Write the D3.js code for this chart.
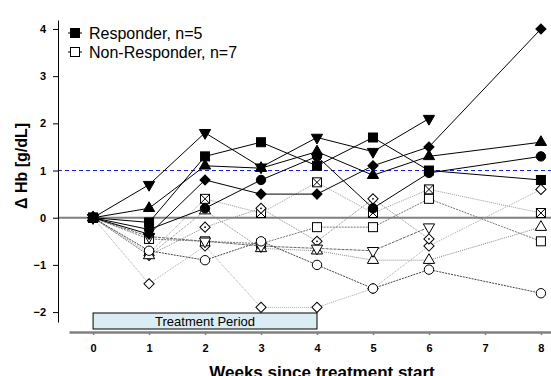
<!DOCTYPE html>
<html>
<head>
<meta charset="utf-8">
<script src="https://cdn.jsdelivr.net/npm/d3@7"></script>
<style>
  body { margin: 0; background: #fff; }
  svg { display: block; font-family: Arial, "Liberation Sans", sans-serif; }
</style>
</head>
<body>
<svg id="chart" width="551" height="376"></svg>
<script>
// weeks since treatment start
var weeks = [0, 1, 2, 3, 4, 5, 6, 8];
var xTicks = [0, 1, 2, 3, 4, 5, 6, 7, 8];
var yTicks = [-2, -1, 0, 1, 2, 3, 4];

// responders (filled markers, solid lines)
var respSquare   = [0, -0.1, 1.3, 1.6, 1.1, 1.7, 1.0, 0.8];
var respCircle   = [0, -0.25, 0.2, 0.8, 1.3, 0.2, 0.95, 1.3];
var respTriUp    = [0, 0.2, 1.1, 1.05, 1.4, 0.9, 1.3, 1.6];
var respTriDown  = [0, 0.7, 1.8, 1.07, 1.7, 1.4, 2.1, null];
var respDiamond  = [0, -0.35, 0.8, 0.5, 0.5, 1.1, 1.5, 4.0];

// non-responders (open markers, dotted lines)
var nonSquare      = [0, -0.45, -0.5, -0.55, -0.2, -0.2, 0.4, -0.5];
var nonCircle      = [0, -0.7, -0.9, -0.5, -1.0, -1.5, -1.1, -1.6];
var nonTriUp       = [0, -0.8, 0.15, -0.65, -0.7, -0.9, -0.9, -0.2];
var nonTriDown     = [0, -0.4, -0.5, -0.6, -0.65, -0.7, -0.2, null];
var nonDiamond     = [0, -1.4, -0.6, -1.9, -1.9, -1.5, -0.6, 0.6];
var nonCrossSquare = [0, -0.75, 0.4, 0.1, 0.75, 0.1, 0.6, 0.1];
var nonDotDiamond  = [0, -0.8, -0.2, 0.2, -0.5, 0.4, -0.45, null];

var treatmentWeeks = [0, 4];
var refLine = 1;

var nonResponders = [
  { values: nonDiamond,     shape: "diamond",  color: "#a8a8a8", dash: "1,1" },
  { values: nonCrossSquare, shape: "xsquare",  color: "#9a9a9a", dash: "1,1" },
  { values: nonDotDiamond,  shape: "ddiamond", color: "#8a8a8a", dash: "1,1" },
  { values: nonSquare,      shape: "square",   color: "#777",    dash: "2,1" },
  { values: nonTriUp,       shape: "triup",    color: "#888",    dash: "1,1" },
  { values: nonTriDown,     shape: "tridown",  color: "#666",    dash: "3,1" },
  { values: nonCircle,      shape: "circle",   color: "#444",    dash: "2,1" }
];
var responders = [
  { values: respDiamond, shape: "diamond" },
  { values: respCircle,  shape: "circle" },
  { values: respTriUp,   shape: "triup" },
  { values: respTriDown, shape: "tridown" },
  { values: respSquare,  shape: "square" }
];

var svg = d3.select("#chart");
svg.append("rect").attr("width", 551).attr("height", 376).attr("fill", "#fff");

var x = d3.scaleLinear().domain([-0.43, 8.18]).range([69, 551]);
var y = d3.scaleLinear().domain([-2.21, 4.19]).range([322, 20]);

// treatment period box
svg.append("rect")
  .attr("x", x(treatmentWeeks[0])).attr("y", 313)
  .attr("width", x(treatmentWeeks[1]) - x(treatmentWeeks[0])).attr("height", 16)
  .attr("fill", "#daedf2").attr("stroke", "#000").attr("stroke-width", 1);
svg.append("text")
  .attr("x", x((treatmentWeeks[0] + treatmentWeeks[1]) / 2)).attr("y", 326)
  .attr("text-anchor", "middle").style("font-size", "13px")
  .text("Treatment Period");

// reference lines
svg.append("line")
  .attr("x1", 58).attr("x2", 551).attr("y1", y(0)).attr("y2", y(0))
  .attr("stroke", "#808080").attr("stroke-width", 2);
svg.append("line")
  .attr("x1", 58).attr("x2", 551).attr("y1", y(refLine)).attr("y2", y(refLine))
  .attr("stroke", "#1a1aee").attr("stroke-width", 1).attr("stroke-dasharray", "4,3");

// y axis
var yAxis = svg.append("g")
  .attr("transform", "translate(58,0)")
  .call(d3.axisLeft(y).tickValues(yTicks).tickFormat(d3.format("d"))
    .tickSize(5).tickSizeOuter(0).tickPadding(7));
yAxis.attr("font-family", null);
yAxis.selectAll("text").style("font-size", "11px").style("font-weight", "bold");

// x axis
var xAxis = svg.append("g")
  .attr("transform", "translate(0,332)")
  .call(d3.axisBottom(x).tickValues(xTicks).tickFormat(d3.format("d"))
    .tickSize(3).tickSizeOuter(0).tickPadding(9));
xAxis.attr("font-family", null);
xAxis.select(".domain").attr("stroke", "#808080").attr("stroke-width", 2.5);
xAxis.selectAll(".tick line").attr("stroke", "#808080").attr("stroke-width", 1.5);
xAxis.selectAll("text").style("font-size", "11px").style("font-weight", "bold");

svg.append("text")
  .attr("x", 322).attr("y", 378)
  .attr("text-anchor", "middle").style("font-size", "17px").style("font-weight", "bold")
  .text("Weeks since treatment start");
svg.append("text")
  .attr("transform", "translate(27,166) rotate(-90)")
  .attr("text-anchor", "middle").style("font-size", "16px").style("font-weight", "bold")
  .text("\u0394 Hb [g/dL]");

function points(vals) {
  return weeks.map(function (w, i) { return { w: w, v: vals[i] }; })
    .filter(function (d) { return d.v !== null; });
}

var line = d3.line()
  .x(function (d) { return x(d.w); })
  .y(function (d) { return y(d.v); });

function drawMarker(g, shape, filled) {
  var fill = filled ? "#000" : "#fff";
  if (shape === "square" || shape === "xsquare") {
    g.append("rect").attr("x", -4.5).attr("y", -4.5).attr("width", 9).attr("height", 9)
      .attr("fill", fill).attr("stroke", "#000");
    if (shape === "xsquare") {
      g.append("path").attr("d", "M-4.5,-4.5L4.5,4.5M4.5,-4.5L-4.5,4.5").attr("stroke", "#000");
    }
  } else if (shape === "circle") {
    g.append("circle").attr("r", 4.7).attr("fill", fill).attr("stroke", "#000");
  } else if (shape === "triup" || shape === "tridown") {
    g.append("path").attr("d", d3.symbol(d3.symbolTriangle, 55)())
      .attr("transform", shape === "tridown" ? "rotate(180)" : null)
      .attr("fill", fill).attr("stroke", "#000");
  } else {
    g.append("path").attr("d", d3.symbol(d3.symbolSquare, 52)())
      .attr("transform", "rotate(45)")
      .attr("fill", fill).attr("stroke", "#000");
    if (shape === "ddiamond") {
      g.append("circle").attr("r", 0.9).attr("fill", "#000");
    }
  }
}

function drawSeries(s, filled) {
  var pts = points(s.values);
  svg.append("path").datum(pts)
    .attr("d", line).attr("fill", "none")
    .attr("stroke", filled ? "#000" : s.color)
    .attr("stroke-width", 1)
    .attr("stroke-dasharray", filled ? null : s.dash);
  svg.selectAll(null).data(pts).enter().append("g")
    .attr("transform", function (d) { return "translate(" + x(d.w) + "," + y(d.v) + ")"; })
    .each(function () { drawMarker(d3.select(this), s.shape, filled); });
}

nonResponders.forEach(function (s) { drawSeries(s, false); });
responders.forEach(function (s) { drawSeries(s, true); });

// legend
var legend = svg.append("g");
[["Responder, n=5", true, 33], ["Non-Responder, n=7", false, 52]].forEach(function (item) {
  legend.append("line").attr("x1", 68).attr("x2", 82).attr("y1", item[2]).attr("y2", item[2])
    .attr("stroke", "#000");
  var m = legend.append("g").attr("transform", "translate(75," + item[2] + ")");
  drawMarker(m, "square", item[1]);
  legend.append("text").attr("x", 89).attr("y", item[2] + 6)
    .style("font-size", "16px").text(item[0]);
});
</script>
</body>
</html>
